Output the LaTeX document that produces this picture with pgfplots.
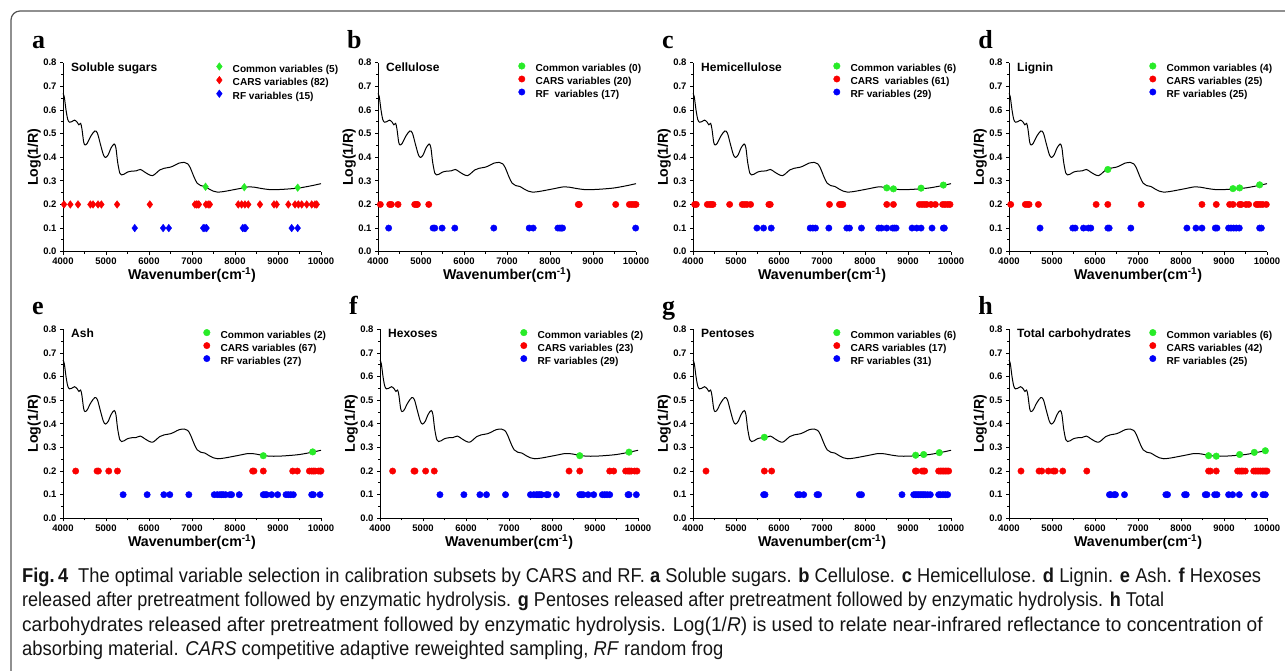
\documentclass[border=0pt]{standalone}
\usepackage{fontspec}
\setmainfont{Liberation Sans}
\newfontfamily\letterfont{Liberation Serif}
\newfontfamily\capfont[FakeStretch=0.92]{Liberation Sans}
\usepackage{pgfplots}
\pgfplotsset{compat=1.18}
\usepackage{pgfplotstable}

\definecolor{cg}{RGB}{40,235,40}
\definecolor{cr}{RGB}{250,0,0}
\definecolor{cb}{RGB}{0,0,250}
\definecolor{framec}{RGB}{85,85,85}
\newcommand{\lf}{\bfseries\fontsize{10.1}{12}\selectfont}

\pgfplotstableread{
x y
4000 0.670
4030 0.655
4070 0.600
4110 0.560
4150 0.548
4200 0.550
4270 0.557
4330 0.548
4370 0.537
4410 0.543
4440 0.520
4480 0.465
4510 0.452
4560 0.458
4650 0.490
4740 0.511
4800 0.502
4870 0.455
4940 0.410
4990 0.399
5050 0.410
5120 0.440
5190 0.456
5230 0.440
5270 0.380
5320 0.333
5360 0.325
5420 0.328
5500 0.337
5600 0.341
5700 0.342
5800 0.348
5900 0.337
6000 0.326
6080 0.322
6150 0.330
6250 0.346
6350 0.353
6500 0.358
6600 0.366
6700 0.375
6820 0.378
6900 0.372
6960 0.355
7050 0.315
7120 0.290
7200 0.280
7300 0.276
7400 0.265
7500 0.256
7600 0.252
7750 0.255
7900 0.260
8100 0.267
8300 0.274
8450 0.273
8600 0.268
8800 0.263
9000 0.263
9200 0.265
9500 0.270
9800 0.280
10000 0.288
}\spec

\pgfplotsset{
 panel/.style={
  scale only axis, width=258pt, height=189pt, clip=false,
  xmin=4000, xmax=10000, ymin=0, ymax=0.8,
  scaled ticks=false,
  axis lines=left, axis line style={-, line width=1pt},
  xtick={4000,5000,6000,7000,8000,9000,10000},
  ytick={0,0.1,0.2,0.3,0.4,0.5,0.6,0.7,0.8},
  minor x tick num=1, minor y tick num=1,
  tick align=outside, major tick length=3pt, minor tick length=2pt,
  every tick/.style={black, line width=0.8pt},
  tick label style={font=\bfseries\fontsize{9.5}{10}\selectfont},
  /pgf/number format/assume math mode=true,
  xticklabel style={/pgf/number format/1000 sep={}},
  yticklabel style={/pgf/number format/.cd, fixed, fixed zerofill, precision=1},
  xlabel={Wavenumber(cm\textsuperscript{-1})},
  ylabel={Log(1/R)},
  label style={font=\bfseries\fontsize{14.2}{16}\selectfont},
  xlabel style={at={(axis description cs:0.5,-0.148)}, anchor=base},
  ylabel style={at={(axis description cs:-0.097,0.5)}, anchor=base},
  legend cell align=left,
  legend style={draw=none, fill=none, inner sep=0pt, outer sep=0pt,
    font=\lf, row sep=2pt,
    nodes={inner sep=0pt, text height=7pt, text depth=2pt, font=\lf},
    /tikz/every odd column/.append style={column sep=10.5pt},
    anchor=north west, at={(axis description cs:#1,1)}},
  legend image code/.code={\draw[##1] plot coordinates {(0pt,3.3pt)};},
 },
 panel/.default=0.5446,
 gpt/.style={only marks, mark=*, mark size=3.3pt, cg, mark options={draw=cg, fill=cg}},
 rpt/.style={only marks, mark=*, mark size=3.2pt, cr, mark options={draw=cr, fill=cr}},
 bpt/.style={only marks, mark=*, mark size=3.2pt, cb, mark options={draw=cb, fill=cb}},
 spec/.style={black, line width=1pt, smooth, forget plot},
}
\newcommand{\ptitle}[1]{\node[anchor=base west, inner sep=0pt, font=\bfseries\fontsize{12}{14}\selectfont] at (axis description cs:0.031,0.955) {#1};}
\newcommand{\pletter}[1]{\node[anchor=base west, inner sep=0pt, font=\letterfont\bfseries\fontsize{26}{28}\selectfont] at (axis description cs:-0.12,1.077) {#1};}

\begin{document}
\begin{tikzpicture}
\path[use as bounding box, clip] (0pt,0pt) rectangle (1285pt,670pt);
\draw[framec, line width=1.2pt, rounded corners=9pt] (11pt,-20pt) |- (1300pt,659pt);

% ---------------- a
\begin{axis}[panel=0.595, at={(63pt,418.3pt)}, anchor=south west,
  gpt/.append style={mark=diamond*, mark size=3.8pt},
  rpt/.append style={mark=diamond*, mark size=3.8pt},
  bpt/.append style={mark=diamond*, mark size=3.8pt}]
\addplot[spec] table {\spec};
\addplot[gpt] coordinates {(7315,0.275) (8216,0.273) (9458,0.271)};
\addplot[rpt] coordinates {(4023,0.2) (4171,0.2) (4349,0.2) (4637,0.2) (4699,0.2) (4815,0.2) (4893,0.2) (5258,0.2) (6019,0.2) (7067,0.2) (7106,0.2) (7140,0.2) (7160,0.2) (7323,0.2) (7377,0.2) (7416,0.2) (8076,0.2) (8154,0.2) (8231,0.2) (8309,0.2) (8581,0.2) (8907,0.2) (8969,0.2) (9241,0.2) (9396,0.2) (9474,0.2) (9551,0.2) (9668,0.2) (9784,0.2) (9860,0.2) (9901,0.2)};
\addplot[bpt] coordinates {(5669,0.1) (6329,0.1) (6461,0.1) (7260,0.1) (7300,0.1) (7340,0.1) (8180,0.1) (8215,0.1) (8250,0.1) (9318,0.1) (9458,0.1)};
\legend{{\lf Common variables (5)}, {\lf CARS variables (82)}, {\lf RF variables (15)}}
\ptitle{Soluble sugars}
\pletter{a}
\end{axis}

% ---------------- b
\begin{axis}[panel, at={(378pt,418.3pt)}, anchor=south west]
\addplot[spec] table {\spec};
\addlegendimage{gpt}
\addplot[rpt] coordinates {(4054,0.2) (4272,0.2) (4311,0.2) (4466,0.2) (4854,0.2) (4893,0.2) (4916,0.2) (5180,0.2) (8658,0.2) (8681,0.2) (9528,0.2) (9846,0.2) (9901,0.2) (9955,0.2) (10000,0.2)};
\addplot[bpt] coordinates {(4248,0.1) (5281,0.1) (5320,0.1) (5491,0.1) (5786,0.1) (6693,0.1) (7516,0.1) (7609,0.1) (8183,0.1) (8230,0.1) (8261,0.1) (8292,0.1) (9992,0.1)};
\legend{{\lf Common variables (0)}, {\lf CARS variables (20)}, {\lf RF\ \ variables (17)}}
\ptitle{Cellulose}
\pletter{b}
\end{axis}

% ---------------- c
\begin{axis}[panel, at={(693pt,418.3pt)}, anchor=south west]
\addplot[spec] table {\spec};
\addplot[gpt] coordinates {(8506,0.270) (8661,0.266) (9304,0.269) (9822,0.282)};
\addplot[rpt] coordinates {(4039,0.2) (4077,0.2) (4333,0.2) (4387,0.2) (4426,0.2) (4464,0.2) (4852,0.2) (5146,0.2) (5200,0.2) (5254,0.2) (5339,0.2) (5765,0.2) (5796,0.2) (7174,0.2) (7406,0.2) (7445,0.2) (7484,0.2) (8506,0.2) (8661,0.2) (9265,0.2) (9327,0.2) (9381,0.2) (9435,0.2) (9535,0.2) (9636,0.2) (9806,0.2) (9861,0.2) (9923,0.2) (9977,0.2)};
\addplot[bpt] coordinates {(5486,0.1) (5641,0.1) (5819,0.1) (6725,0.1) (6787,0.1) (6849,0.1) (7159,0.1) (7577,0.1) (7639,0.1) (7917,0.1) (8319,0.1) (8381,0.1) (8506,0.1) (8645,0.1) (8684,0.1) (8723,0.1) (9094,0.1) (9203,0.1) (9304,0.1) (9559,0.1) (9822,0.1) (9845,0.1)};
\legend{{\lf Common variables (6)}, {\lf CARS\ \ variables (61)}, {\lf RF variables (29)}}
\ptitle{Hemicellulose}
\pletter{c}
\end{axis}

% ---------------- d
\begin{axis}[panel, at={(1009pt,418.3pt)}, anchor=south west]
\addplot[spec] table {\spec};
\addplot[gpt] coordinates {(6298,0.348) (9208,0.267) (9363,0.270) (9829,0.283)};
\addplot[rpt] coordinates {(4039,0.2) (4380,0.2) (4427,0.2) (4466,0.2) (4683,0.2) (6026,0.2) (6298,0.2) (7074,0.2) (8487,0.2) (8820,0.2) (9131,0.2) (9208,0.2) (9363,0.2) (9402,0.2) (9511,0.2) (9573,0.2) (9752,0.2) (9791,0.2) (9845,0.2) (9899,0.2) (9984,0.2)};
\addplot[bpt] coordinates {(4722,0.1) (5483,0.1) (5538,0.1) (5732,0.1) (5848,0.1) (5902,0.1) (6298,0.1) (6329,0.1) (6833,0.1) (8137,0.1) (8347,0.1) (8487,0.1) (8797,0.1) (8836,0.1) (9107,0.1) (9162,0.1) (9224,0.1) (9286,0.1) (9356,0.1) (9829,0.1) (9868,0.1)};
\legend{{\lf Common variables (4)}, {\lf CARS variables (25)}, {\lf RF variables (25)}}
\ptitle{Lignin}
\pletter{d}
\end{axis}

% ---------------- e
\begin{axis}[panel, at={(63pt,151.7pt)}, anchor=south west]
\addplot[spec] table {\spec};
\addplot[gpt] coordinates {(8658,0.265) (9807,0.281)};
\addplot[rpt] coordinates {(4295,0.2) (4792,0.2) (4823,0.2) (5064,0.2) (5266,0.2) (8410,0.2) (8441,0.2) (8658,0.2) (9342,0.2) (9450,0.2) (9730,0.2) (9784,0.2) (9823,0.2) (9862,0.2) (9939,0.2) (9978,0.2) (10000,0.2)};
\addplot[bpt] coordinates {(5398,0.1) (5957,0.1) (6345,0.1) (6484,0.1) (6927,0.1) (7517,0.1) (7587,0.1) (7649,0.1) (7688,0.1) (7727,0.1) (7781,0.1) (7882,0.1) (7921,0.1) (8099,0.1) (8658,0.1) (8697,0.1) (8736,0.1) (8852,0.1) (8992,0.1) (9186,0.1) (9240,0.1) (9295,0.1) (9357,0.1) (9784,0.1) (9823,0.1) (9978,0.1)};
\legend{{\lf Common variables (2)}, {\lf CARS variables (67)}, {\lf RF variables (27)}}
\ptitle{Ash}
\pletter{e}
\end{axis}

% ---------------- f
\begin{axis}[panel, at={(380pt,151.7pt)}, anchor=south west]
\addplot[spec] table {\spec};
\addplot[gpt] coordinates {(8645,0.265) (9791,0.280)};
\addplot[rpt] coordinates {(4294,0.2) (4790,0.2) (4814,0.2) (5061,0.2) (5262,0.2) (8397,0.2) (8645,0.2) (9342,0.2) (9435,0.2) (9713,0.2) (9768,0.2) (9806,0.2) (9845,0.2) (9923,0.2) (9977,0.2)};
\addplot[bpt] coordinates {(5394,0.1) (5951,0.1) (6323,0.1) (6477,0.1) (6919,0.1) (7499,0.1) (7577,0.1) (7639,0.1) (7677,0.1) (7716,0.1) (7755,0.1) (7871,0.1) (7910,0.1) (8103,0.1) (8645,0.1) (8684,0.1) (8723,0.1) (8839,0.1) (8970,0.1) (9172,0.1) (9226,0.1) (9280,0.1) (9342,0.1) (9768,0.1) (9791,0.1) (9961,0.1)};
\legend{{\lf Common variables (2)}, {\lf CARS variables (23)}, {\lf RF variables (29)}}
\ptitle{Hexoses}
\pletter{f}
\end{axis}

% ---------------- g
\begin{axis}[panel, at={(693pt,151.7pt)}, anchor=south west]
\addplot[spec] table {\spec};
\addplot[gpt] coordinates {(5659,0.343) (9178,0.267) (9364,0.270) (9729,0.278)};
\addplot[rpt] coordinates {(4302,0.2) (5659,0.2) (5829,0.2) (9171,0.2) (9194,0.2) (9326,0.2) (9364,0.2) (9388,0.2) (9713,0.2) (9752,0.2) (9791,0.2) (9829,0.2) (9868,0.2) (9907,0.2) (9946,0.2)};
\addplot[bpt] coordinates {(5643,0.1) (5674,0.1) (6434,0.1) (6481,0.1) (6574,0.1) (6884,0.1) (6922,0.1) (7870,0.1) (7920,0.1) (8860,0.1) (9132,0.1) (9171,0.1) (9209,0.1) (9248,0.1) (9287,0.1) (9326,0.1) (9364,0.1) (9403,0.1) (9457,0.1) (9519,0.1) (9713,0.1) (9752,0.1) (9814,0.1) (9868,0.1) (9922,0.1)};
\legend{{\lf Common variables (6)}, {\lf CARS variables (17)}, {\lf RF variables (31)}}
\ptitle{Pentoses}
\pletter{g}
\end{axis}

% ---------------- h
\begin{axis}[panel, at={(1009pt,151.7pt)}, anchor=south west]
\addplot[spec] table {\spec};
\addplot[gpt] coordinates {(8642,0.265) (8820,0.263) (9363,0.270) (9705,0.279) (9961,0.286)};
\addplot[rpt] coordinates {(4279,0.2) (4699,0.2) (4761,0.2) (4916,0.2) (5033,0.2) (5072,0.2) (5250,0.2) (5809,0.2) (8642,0.2) (8681,0.2) (8820,0.2) (9317,0.2) (9363,0.2) (9402,0.2) (9441,0.2) (9495,0.2) (9690,0.2) (9730,0.2) (9770,0.2) (9810,0.2) (9850,0.2) (9890,0.2) (9930,0.2) (9970,0.2) (10000,0.2)};
\addplot[bpt] coordinates {(6336,0.1) (6367,0.1) (6445,0.1) (6476,0.1) (6686,0.1) (7648,0.1) (7687,0.1) (8083,0.1) (8122,0.1) (8564,0.1) (8603,0.1) (8782,0.1) (8836,0.1) (9107,0.1) (9200,0.1) (9356,0.1) (9705,0.1) (9907,0.1) (9961,0.1)};
\legend{{\lf Common variables (6)}, {\lf CARS variables (42)}, {\lf RF variables (25)}}
\ptitle{Total carbohydrates}
\pletter{h}
\end{axis}

% ---------------- caption
\begin{scope}[every node/.style={anchor=base west, inner sep=0pt, font=\capfont\fontsize{20}{24}\selectfont, text=black!92}]
\node at (22pt,88pt) {\scalebox{0.995}[1]{\textbf{Fig.\,4}\enspace The optimal variable selection in calibration subsets by CARS and RF. \textbf{a} Soluble sugars. \textbf{b} Cellulose. \textbf{c} Hemicellulose. \textbf{d} Lignin. \textbf{e} Ash. \textbf{f} Hexoses}};
\node at (22pt,63.5pt) {\scalebox{0.98}[1]{released after pretreatment followed by enzymatic hydrolysis. \textbf{g} Pentoses released after pretreatment followed by enzymatic hydrolysis. \textbf{h} Total}};
\node at (22pt,39pt) {\scalebox{1.037}[1]{carbohydrates released after pretreatment followed by enzymatic hydrolysis. Log(1/\textit{R}) is used to relate near-infrared reflectance to concentration of}};
\node at (22pt,14.5pt) {absorbing material. \textit{CARS} competitive adaptive reweighted sampling, \textit{RF} random frog};
\end{scope}
\end{tikzpicture}
\end{document}
